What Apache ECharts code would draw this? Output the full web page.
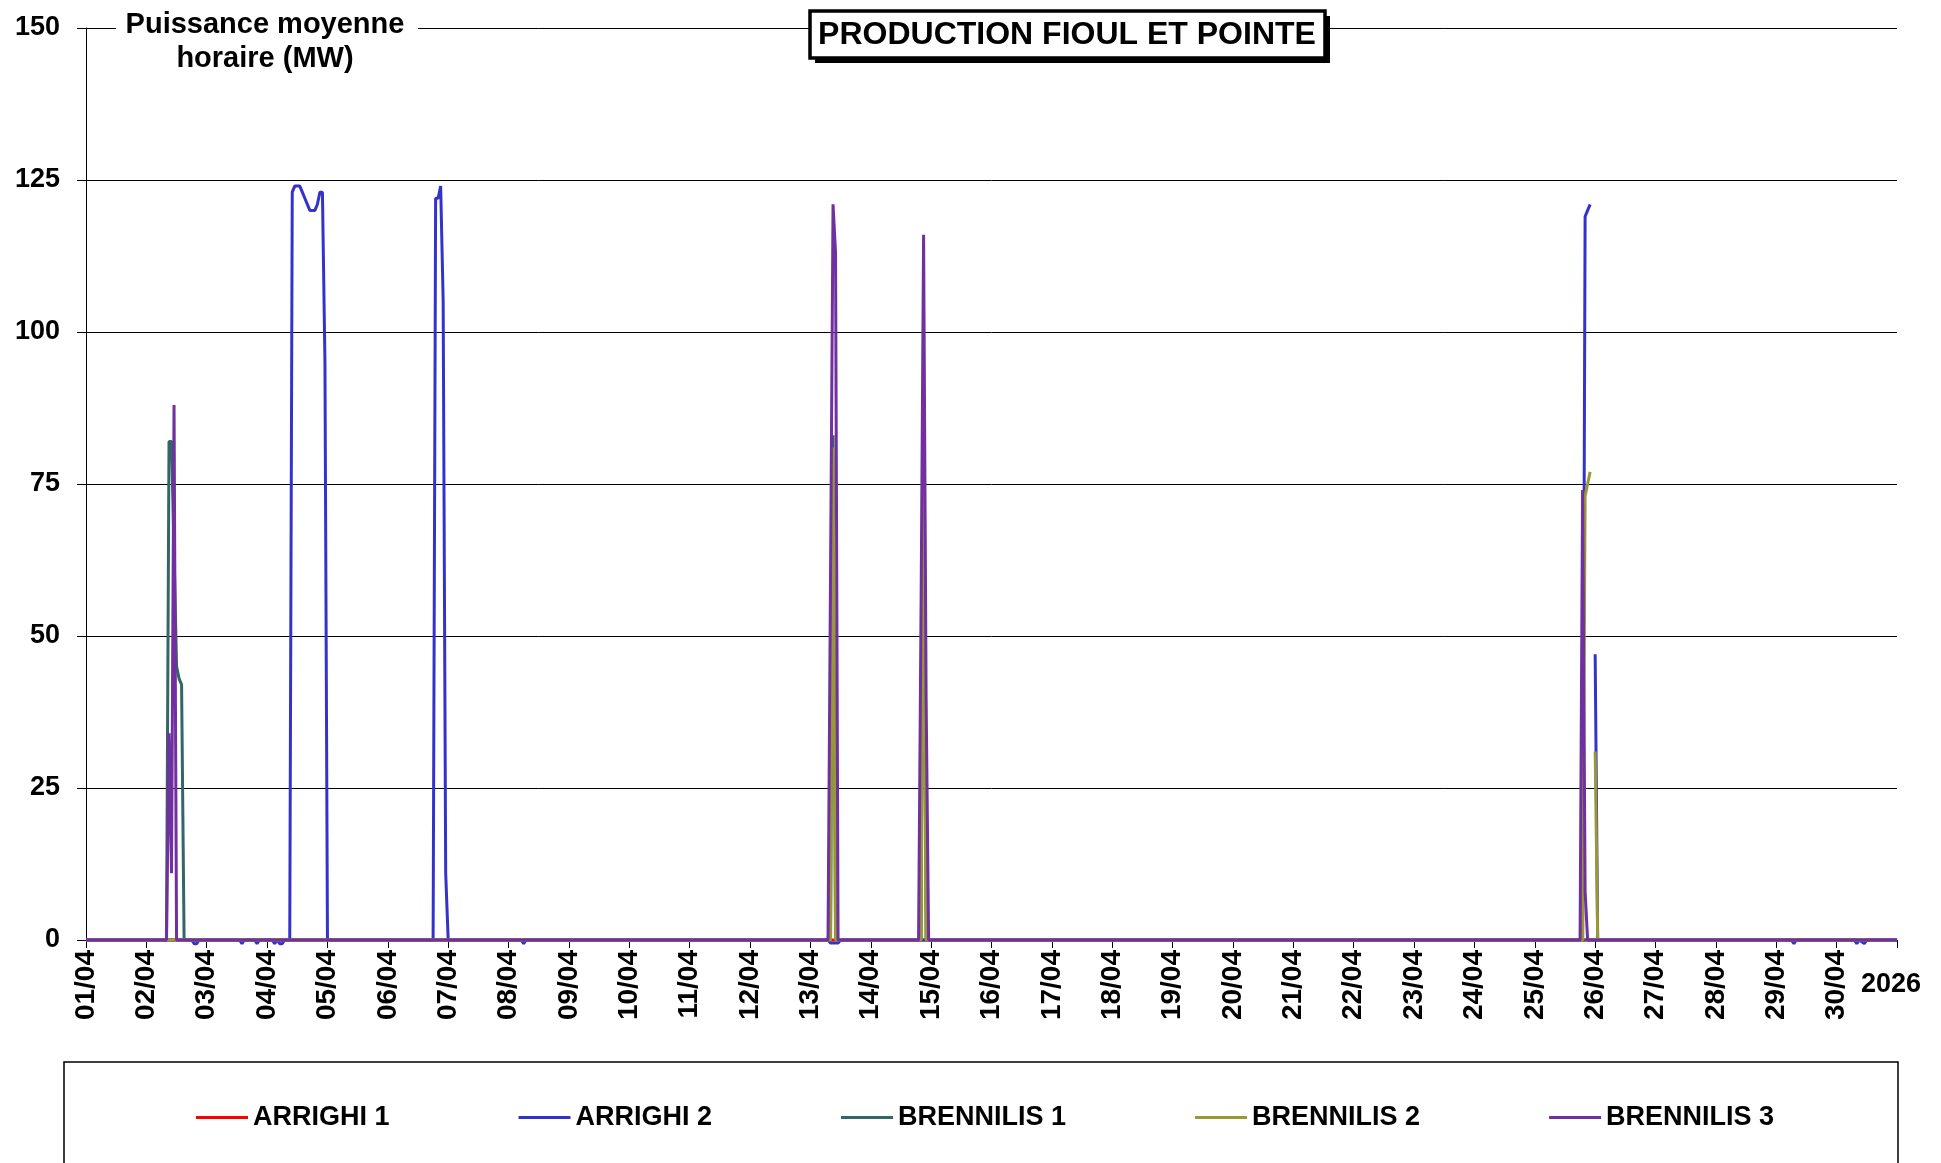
<!DOCTYPE html>
<html><head><meta charset="utf-8">
<script src="https://cdn.jsdelivr.net/npm/echarts@6/dist/echarts.min.js"></script>
<style>html,body{margin:0;padding:0;background:#fff}#c{width:1941px;height:1163px}</style>
</head><body><div id="c"></div>
<script>
// Tick labels (one per day, hour 0 of each day of April 2026)
const dayLabels = ['01/04','02/04','03/04','04/04','05/04','06/04','07/04','08/04','09/04','10/04',
  '11/04','12/04','13/04','14/04','15/04','16/04','17/04','18/04','19/04','20/04',
  '21/04','22/04','23/04','24/04','25/04','26/04','27/04','28/04','29/04','30/04'];
const seriesNames = ['ARRIGHI 1','ARRIGHI 2','BRENNILIS 1','BRENNILIS 2','BRENNILIS 3'];
const seriesColors = ['#FF0000','#3333CC','#336666','#999933','#7030A0'];
const yTicks = [0,25,50,75,100,125,150];

// Hourly mean power [hour since 01/04 00:00, MW]; '-' = missing value
const arrighi1 = [[0,0],[720,0]];
const arrighi2 = [[0,0],[42,0],[43,-0.6],[44,-0.6],[45,0],[61,0],[62,-0.6],[63,0],[67,0],[68,-0.6],[69,0],
  [74,0],[75,-0.6],[76,0],[77,-0.6],[78,-0.6],[79,0],
  [81,0],[82,123],[83,124],[84,124],[85,124],[86,123],[87,122],[88,121],[89,120],
  [90,120],[91,120],[92,121],[93,123],[94,123],[95,95],[96,0],
  [138,0],[139,122],[140,122],[141,124],[142,105],[143,11],[144,0],
  [173,0],[174,-0.6],[175,0],
  [295,0],[296,-0.5],[299,-0.5],[300,0],
  [595,0],[596,119],[597,120],[598,121],[599,'-'],[600,47],[601,0],
  [678,0],[679,-0.6],[680,0],[703,0],[704,-0.6],[705,0],[707,-0.6],[708,0],[720,0]];
const brennilis1 = [[0,0],[32,0],[33,82],[34,82],[35,64],[36,45],[37,43],[38,42],[39,0],
  [296,0],[297,83],[298,0],[332,0],[333,79],[334,0],[720,0]];
const brennilis2 = [[0,0],[296,0],[297,81],[298,0],[332,0],[333,78],[334,0],
  [595,0],[596,73],[597,75],[598,77],[599,'-'],[600,31],[601,0],[720,0]];
const brennilis3 = [[0,0],[32,0],[33,34],[34,11],[35,88],[36,0],
  [295,0],[296,60],[297,121],[298,113],[299,0],
  [331,0],[332,55],[333,116],[334,40],[335,0],
  [594,0],[595,74],[596,8],[597,0],[720,0]];
const allData = [arrighi1, arrighi2, brennilis1, brennilis2, brennilis3];

const FF = "'Liberation Sans', Arial, sans-serif";
const chart = echarts.init(document.getElementById('c'), null, {renderer:'canvas'});
chart.setOption({
  animation: false,
  backgroundColor: '#fff',
  grid: {left: 86, right: 44, top: 28, bottom: 223, containLabel: false},
  xAxis: {
    type: 'value', min: 0, max: 720, interval: 24,
    axisLine: {show: true, onZero: false, lineStyle: {color: '#000', width: 1}},
    axisTick: {show: true, inside: false, length: 8, lineStyle: {color: '#000', width: 1}},
    splitLine: {show: false},
    axisLabel: {
      rotate: 90, margin: 10, color: '#000', fontFamily: FF, fontWeight: 'bold', fontSize: 28,
      formatter: v => dayLabels[Math.round(v/24)] || ''
    }
  },
  yAxis: {
    type: 'value', min: yTicks[0], max: yTicks[yTicks.length-1], interval: 25,
    axisLine: {show: true, lineStyle: {color: '#000', width: 1}},
    axisTick: {show: true, inside: false, length: 9, lineStyle: {color: '#000', width: 1}},
    splitLine: {show: true, lineStyle: {color: '#000', width: 1}},
    axisLabel: {margin: 26, color: '#000', fontFamily: FF, fontWeight: 'bold', fontSize: 27}
  },
  legend: {
    show: true, left: 191, top: 1099, itemGap: 129, itemWidth: 52, itemHeight: 3,
    icon: 'rect', selectedMode: false,
    textStyle: {color: '#000', fontFamily: FF, fontWeight: 'bold', fontSize: 27},
    data: seriesNames
  },
  series: seriesNames.map((n, i) => ({
    name: n, type: 'line', data: allData[i], showSymbol: false, symbol: 'none',
    clip: false, connectNulls: false,
    color: seriesColors[i],
    lineStyle: {color: seriesColors[i], width: 3},
    emphasis: {disabled: true}
  })),
  graphic: [
    {type: 'rect', z: 100, shape: {x: 64, y: 1062, width: 1834, height: 200},
      style: {fill: 'none', stroke: '#000', lineWidth: 1.5}},
    {type: 'rect', z: 100, shape: {x: 116, y: 18, width: 302, height: 20}, style: {fill: '#fff'}},
    {type: 'text', z: 101, style: {text: 'Puissance moyenne\nhoraire (MW)', x: 265, y: 8,
      textAlign: 'center', textVerticalAlign: 'top', font: "bold 29px 'Liberation Sans', Arial, sans-serif",
      lineHeight: 34, fill: '#000'}},
    {type: 'rect', z: 100, shape: {x: 815, y: 16, width: 515, height: 47}, style: {fill: '#000'}},
    {type: 'rect', z: 101, shape: {x: 810, y: 11, width: 515, height: 47},
      style: {fill: '#fff', stroke: '#000', lineWidth: 3.5}},
    {type: 'text', z: 102, style: {text: 'PRODUCTION FIOUL ET POINTE', x: 1067, y: 35,
      textAlign: 'center', textVerticalAlign: 'middle', font: "bold 32px 'Liberation Sans', Arial, sans-serif", fill: '#000'}},
    {type: 'text', z: 100, style: {text: '2026', x: 1861, y: 985, textAlign: 'left', textVerticalAlign: 'middle',
      font: "bold 27px 'Liberation Sans', Arial, sans-serif", fill: '#000'}}
  ]
});
</script></body></html>
